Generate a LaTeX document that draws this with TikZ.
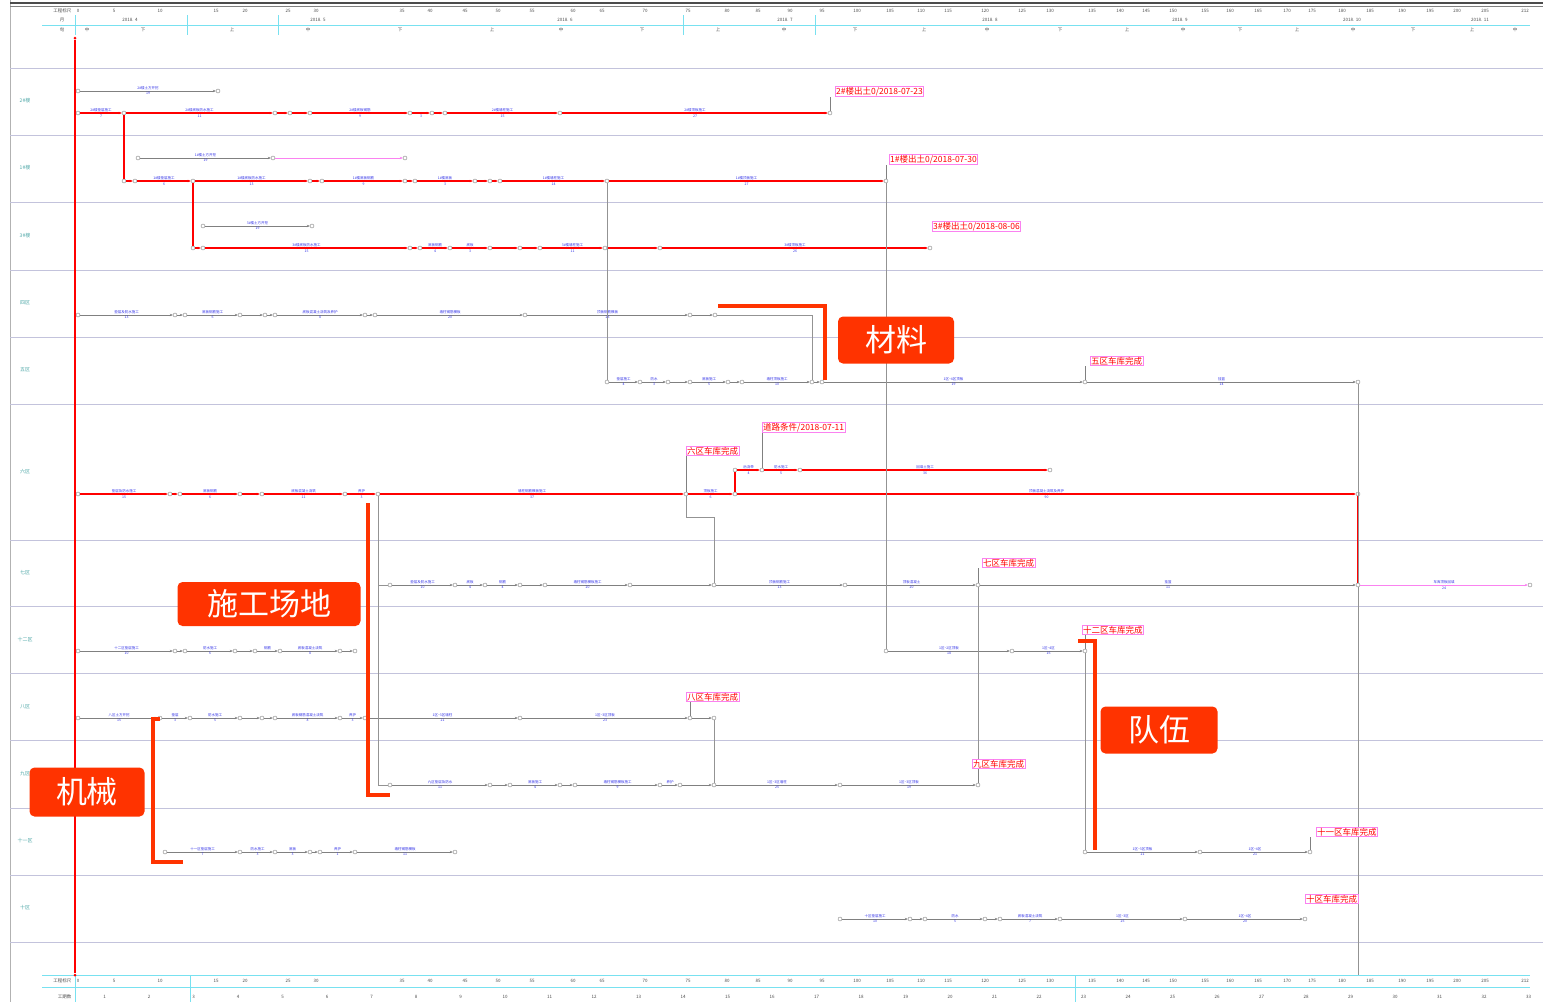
\documentclass[tikz,border=0pt]{standalone}
\usepackage{fontspec}
\setmainfont{Noto Sans CJK SC}
\usetikzlibrary{arrows.meta}
\definecolor{callred}{RGB}{255,51,0}
\definecolor{laneline}{RGB}{195,195,220}
\definecolor{scalecyan}{RGB}{120,225,240}
\definecolor{actblue}{RGB}{50,50,230}
\definecolor{pinkline}{RGB}{250,130,240}
\begin{document}
\begin{tikzpicture}[x=1pt, y=-1pt,
  lane/.style={draw=laneline, line width=0.8pt},
  scaleline/.style={draw=scalecyan, line width=0.8pt},
  crit/.style={draw=red, line width=1.3pt, -{Stealth[length=3pt,width=2.5pt]}},
  work/.style={draw=gray, line width=0.6pt, -{Stealth[length=3pt,width=2.5pt]}},
  pinkwork/.style={draw=pinkline, line width=1pt, -{Stealth[length=3pt,width=2.5pt]}},
  link/.style={draw=gray!85, line width=0.9pt},
  ev/.style={circle, draw=gray, fill=white, inner sep=0pt, minimum size=4pt},
  spdot/.style={circle, fill=red, inner sep=0pt, minimum size=3pt},
  act/.style={text=actblue, font=\fontsize{3.5}{4}\selectfont, inner sep=1pt},
  lanelbl/.style={text=teal!70, font=\fontsize{5}{6}\selectfont},
  scaletxt/.style={font=\fontsize{4.5}{5}\selectfont, text=black!70, inner sep=0.5pt},
  mstone/.style={draw=pinkline, line width=0.8pt, fill=white, text=red,
    font=\fontsize{8.5}{9}\selectfont, inner sep=0.8pt, anchor=south west},
  callout/.style={fill=callred, rounded corners=5pt, text=white,
    font=\fontsize{31}{33}\selectfont, minimum height=47pt},
  bracket/.style={draw=callred, line width=4.5pt}
]
\useasboundingbox (0,0) rectangle (1543,1002);
\clip (0,0) rectangle (1543,1002);

% frame and lanes
\draw[draw=gray!60, line width=0.8pt] (10,0) -- (10,1002);
\draw[line width=1.2pt, black!70] (10,3) -- (1543,3);
\draw[line width=0.6pt, black!50] (10,6) -- (1543,6);
\foreach \y in {68,135,202,270,337,404,540,606,673,740,808,875,942}
  \draw[lane] (10,\y) -- (1543,\y);
\foreach \y/\t in {101/2\#楼,168/1\#楼,236/3\#楼,303/四区,370/五区,472/六区,573/七区,640/十二区,707/八区,774/九区,841/十一区,908/十区}
  \node[lanelbl] at (25,\y) {\t};

% time scales
\draw[scaleline] (42,25) -- (1530,25);
\draw[scaleline] (42,975) -- (1530,975);
\draw[scaleline] (42,987) -- (1530,987);
\foreach \x in {75,187,278,683,815}
  \draw[scaleline] (\x,15) -- (\x,35);
\foreach \x in {75,190,1075}
  \draw[scaleline] (\x,975) -- (\x,1002);
\node[scaletxt, anchor=east] at (72,11) {工程标尺};
\node[scaletxt, anchor=east] at (65,20) {月};
\node[scaletxt, anchor=east] at (65,30) {旬};
\node[scaletxt, anchor=east] at (72,981) {工程标尺};
\node[scaletxt, anchor=east] at (72,997) {工期数};
\foreach \n/\x in {0/78,5/114,10/160,15/216,20/245,25/288,30/316,35/402,40/430,45/465,50/498,55/532,60/573,65/602,70/645,75/688,80/727,85/758,90/790,95/822,100/857,105/890,110/921,115/948,120/985,125/1022,130/1050,135/1092,140/1120,145/1146,150/1173,155/1205,160/1230,165/1258,170/1287,175/1312,180/1342,185/1370,190/1402,195/1430,200/1457,205/1485,212/1525}
{
  \node[scaletxt] at (\x,11) {\n};
  \node[scaletxt] at (\x,981) {\n};
}
\foreach \t/\x in {2018. 4/130,2018. 5/318,2018. 6/565,2018. 7/785,2018. 8/990,2018. 9/1180,2018. 10/1352,2018. 11/1480}
  \node[scaletxt] at (\x,20) {\t};
\foreach \t/\x in {中/87,下/143,上/232,中/308,下/400,上/492,中/561,下/642,上/718,中/784,下/855,上/924,中/987,下/1060,上/1127,中/1183,下/1240,上/1297,中/1353,下/1413,上/1472,中/1515}
  \node[scaletxt] at (\x,30) {\t};
\foreach \n in {1,...,33}
  \node[scaletxt] at ({60+\n*44.5},997) {\n};

% critical spine
\node[spdot] (top) at (75,38) {};
\node[spdot] (bot) at (75,975) {};
\draw[draw=red, line width=1.3pt] (top) -- (bot);

% 2# building
\foreach \i/\x in {1/78,2/124,3/275,4/290,5/310,6/410,7/432,8/445,9/560,10/830}
  \node[ev] (b2-\i) at (\x,113) {};
\foreach \i/\j/\t/\d in {1/2/2\#楼垫层施工/7,2/3/2\#楼底板防水施工/11,3/4/{}/{},4/5/{}/{},5/6/2\#楼底板钢筋/9,6/7/{}/3,7/8/{}/{},8/9/2\#楼墙柱施工/15,9/10/2\#楼顶板施工/27}
  \draw[crit] (b2-\i) -- node[act,above]{\t} node[act,below]{\d} (b2-\j);
\node[ev] (b2a-1) at (78,91) {};
\node[ev] (b2a-2) at (218,91) {};
\draw[work] (b2a-1) -- node[act,above]{2\#楼土方开挖} node[act,below]{19} (b2a-2);

% 1# building
\foreach \i/\x in {1/124,2/135,3/193,4/310,5/322,6/405,7/415,8/475,9/490,10/500,11/607,12/886}
  \node[ev] (b1-\i) at (\x,181) {};
\foreach \i/\j/\t/\d in {1/2/{}/{},2/3/1\#楼垫层施工/6,3/4/1\#楼底板防水施工/13,4/5/{}/{},5/6/1\#楼底板钢筋/9,6/7/{}/{},7/8/1\#楼底板/3,8/9/{}/{},9/10/{}/{},10/11/1\#楼墙柱施工/14,11/12/1\#楼顶板施工/27}
  \draw[crit] (b1-\i) -- node[act,above]{\t} node[act,below]{\d} (b1-\j);
\draw[draw=red, line width=1.3pt] (b2-2) -- (b1-1);
\node[ev] (b1a-1) at (138,158) {};
\node[ev] (b1a-2) at (273,158) {};
\node[ev] (b1a-3) at (405,158) {};
\draw[work] (b1a-1) -- node[act,above]{1\#楼土方开挖} node[act,below]{19} (b1a-2);
\draw[pinkwork] (b1a-2) -- (b1a-3);

% 3# building
\foreach \i/\x in {1/193,2/203,3/410,4/420,5/450,6/490,7/520,8/540,9/605,10/660,11/930}
  \node[ev] (b3-\i) at (\x,248) {};
\foreach \i/\j/\t/\d in {1/2/{}/{},2/3/3\#楼底板防水施工/15,3/4/{}/{},4/5/底板钢筋/4,5/6/底板/3,6/7/{}/{},7/8/{}/{},8/9/3\#楼墙柱施工/11,9/10/{}/{},10/11/3\#楼顶板施工/26}
  \draw[crit] (b3-\i) -- node[act,above]{\t} node[act,below]{\d} (b3-\j);
\draw[draw=red, line width=1.3pt] (b1-3) -- (b3-1);
\node[ev] (b3a-1) at (203,226) {};
\node[ev] (b3a-2) at (312,226) {};
\draw[work] (b3a-1) -- node[act,above]{3\#楼土方开挖} node[act,below]{19} (b3a-2);

% zone 4
\foreach \i/\x in {1/78,2/175,3/185,4/240,5/265,6/275,7/365,8/375,9/525,10/690,11/715}
  \node[ev] (q4-\i) at (\x,315) {};
\foreach \i/\j/\t/\d in {1/2/垫层及防水施工/13,2/3/{}/{},3/4/底板钢筋施工/6,4/5/{}/{},5/6/{}/{},6/7/底板混凝土浇筑及养护/8,7/8/{}/{},8/9/墙柱钢筋模板/20,9/10/顶板钢筋模板/23,10/11/{}/{}}
  \draw[work] (q4-\i) -- node[act,above]{\t} node[act,below]{\d} (q4-\j);

% zone 5
\foreach \i/\x in {1/607,2/640,3/668,4/690,5/728,6/742,7/812,8/822,9/1085,10/1358}
  \node[ev] (q5-\i) at (\x,382) {};
\foreach \i/\j/\t/\d in {1/2/垫层施工/4,2/3/防水/3,3/4/{}/{},4/5/底板施工/5,5/6/{}/{},6/7/墙柱顶板施工/10,7/8/{}/{},8/9/1区\textasciitilde 4区顶板/19,9/10/挂篮/14}
  \draw[work] (q5-\i) -- node[act,above]{\t} node[act,below]{\d} (q5-\j);

% zone 6
\foreach \i/\x in {1/78,2/170,3/180,4/240,5/262,6/345,7/378,8/686,9/735,10/1358}
  \node[ev] (q6-\i) at (\x,494) {};
\foreach \i/\j/\t/\d in {1/2/垫层及防水施工/15,2/3/{}/{},3/4/底板钢筋/6,4/5/{}/{},5/6/底板混凝土浇筑/11,6/7/养护/3,7/8/墙柱钢筋模板施工/37,8/9/顶板施工/6,9/10/顶板混凝土浇筑及养护/90}
  \draw[crit] (q6-\i) -- node[act,above]{\t} node[act,below]{\d} (q6-\j);
\foreach \i/\x in {1/735,2/762,3/800,4/1050}
  \node[ev] (q6u-\i) at (\x,470) {};
\draw[draw=red, line width=1.3pt] (q6-9) -- (q6u-1);
\foreach \i/\j/\t/\d in {1/2/后浇带/4,2/3/防水施工/5,3/4/回填土施工/36}
  \draw[crit] (q6u-\i) -- node[act,above]{\t} node[act,below]{\d} (q6u-\j);

% zone 7
\foreach \i/\x in {1/390,2/455,3/485,4/520,5/545,6/630,7/714,8/845,9/978,10/1358,11/1530}
  \node[ev] (q7-\i) at (\x,585) {};
\foreach \i/\j/\t/\d in {1/2/垫层及防水施工/10,2/3/底板/4,3/4/钢筋/4,4/5/{}/{},5/6/墙柱钢筋模板施工/20,6/7/{}/{},7/8/顶板钢筋施工/13,8/9/顶板混凝土/20,9/10/挂篮/11}
  \draw[work] (q7-\i) -- node[act,above]{\t} node[act,below]{\d} (q7-\j);
\draw[pinkwork] (q7-10) -- node[act,above]{车库顶板回填} node[act,below]{24} (q7-11);
\draw[draw=red, line width=1.3pt] (q6-10) -- (q7-10);

% zone 12
\foreach \i/\x in {1/78,2/175,3/185,4/235,5/255,6/280,7/340,8/355,9/886,10/1012,11/1085}
  \node[ev] (q12-\i) at (\x,651) {};
\foreach \i/\j/\t/\d in {1/2/十二区垫层施工/10,2/3/{}/{},3/4/防水施工/6,4/5/{}/{},5/6/钢筋/{},6/7/底板混凝土浇筑/8,7/8/{}/{},9/10/1区\textasciitilde 2区顶板/18,10/11/1区\textasciitilde 4区/16}
  \draw[work] (q12-\i) -- node[act,above]{\t} node[act,below]{\d} (q12-\j);

% zone 8
\foreach \i/\x in {1/78,2/160,3/190,4/240,5/262,6/275,7/340,8/365,9/520,10/690,11/714}
  \node[ev] (q8-\i) at (\x,718) {};
\foreach \i/\j/\t/\d in {1/2/八区土方开挖/15,2/3/垫层/3,3/4/防水施工/5,4/5/{}/{},5/6/{}/{},6/7/底板钢筋混凝土浇筑/8,7/8/养护/3,8/9/1区\textasciitilde 3区墙柱/21,9/10/1区\textasciitilde 3区顶板/23,10/11/{}/{}}
  \draw[work] (q8-\i) -- node[act,above]{\t} node[act,below]{\d} (q8-\j);

% zone 9
\foreach \i/\x in {1/390,2/490,3/510,4/560,5/575,6/660,7/680,8/714,9/840,10/978}
  \node[ev] (q9-\i) at (\x,785) {};
\foreach \i/\j/\t/\d in {1/2/九区垫层及防水/11,2/3/{}/{},3/4/底板施工/4,4/5/{}/{},5/6/墙柱钢筋模板施工/9,6/7/养护/{},7/8/{}/{},8/9/1区\textasciitilde 3区墙柱/25,9/10/1区\textasciitilde 3区顶板/19}
  \draw[work] (q9-\i) -- node[act,above]{\t} node[act,below]{\d} (q9-\j);

% zone 11
\foreach \i/\x in {1/165,2/240,3/275,4/310,5/320,6/355,7/455,8/1085,9/1200,10/1310}
  \node[ev] (q11-\i) at (\x,852) {};
\foreach \i/\j/\t/\d in {1/2/十一区垫层施工/7,2/3/防水施工/3,3/4/底板/3,4/5/{}/{},5/6/养护/1,6/7/墙柱钢筋模板/11,8/9/1区\textasciitilde 3区顶板/21,9/10/1区\textasciitilde 4区/21}
  \draw[work] (q11-\i) -- node[act,above]{\t} node[act,below]{\d} (q11-\j);

% zone 10
\foreach \i/\x in {1/840,2/910,3/925,4/985,5/1000,6/1060,7/1185,8/1305}
  \node[ev] (q10-\i) at (\x,919) {};
\foreach \i/\j/\t/\d in {1/2/十区垫层施工/10,2/3/{}/{},3/4/防水/5,4/5/{}/{},5/6/底板混凝土浇筑/7,6/7/1区\textasciitilde 3区/25,7/8/1区\textasciitilde 4区/20}
  \draw[work] (q10-\i) -- node[act,above]{\t} node[act,below]{\d} (q10-\j);

% links between lanes
\coordinate (gridend) at (1358,975);
\draw[link] (b1-11) -- (q5-1);
\draw[link] (b1-12) -- (q12-9);
\draw[link] (q4-11) -| (q5-7);
\draw[link] (q6-8) -- ++(0,23) -| (q7-7);
\draw[link] (q6-7) |- (q7-1);
\draw[link] (q6-7) |- (q9-1);
\draw[link] (q8-11) -- (q9-8);
\draw[link] (q7-9) -- (q9-10);
\draw[link] (q12-11) -- (q11-8);
\draw[link] (q5-10) -- (q7-10);
\draw[link] (q7-10) -- (gridend);

% milestones
\node[mstone] (m2) at (835,97) {2\#楼出土0/2018-07-23};
\node[mstone] (m1) at (889,165) {1\#楼出土0/2018-07-30};
\node[mstone] (m3) at (932,232) {3\#楼出土0/2018-08-06};
\node[mstone] (m5) at (1090,366) {五区车库完成};
\node[mstone] (m6r) at (762,433) {道路条件/2018-07-11};
\node[mstone] (m6) at (686,456) {六区车库完成};
\node[mstone] (m7) at (982,568) {七区车库完成};
\node[mstone] (m12) at (1082,635) {十二区车库完成};
\node[mstone] (m8) at (686,702) {八区车库完成};
\node[mstone] (m9) at (972,769) {九区车库完成};
\node[mstone] (m11) at (1316,837) {十一区车库完成};
\node[mstone] (m10) at (1305,904) {十区车库完成};
\foreach \e/\m in {b2-10/m2,b1-12/m1,q5-9/m5,q6u-2/m6r,q6-8/m6,q7-9/m7,q12-11/m12,q8-10/m8,q9-10/m9,q11-10/m11}
  \draw[draw=gray, line width=0.6pt] (\e) -- (\e |- \m.south);

% call-outs
\draw[bracket] (718,306) -- (825,306) -- (825,380);
\node[callout, minimum width=116pt] (cmat) at (896,340) {材料};
\draw[bracket] (368,503) -- (368,795) -- (390,795);
\node[callout, minimum width=183pt, minimum height=44pt] (csite) at (269,604) {施工场地};
\draw[bracket] (1078,641) -- (1095,641) -- (1095,850);
\node[callout, minimum width=117pt] (cteam) at (1159,730) {队伍};
\draw[bracket] (160,719) -- (153,719) -- (153,862) -- (183,862);
\node[callout, minimum width=115pt, minimum height=49pt] (cmach) at (87,792) {机械};
\end{tikzpicture}
\end{document}
